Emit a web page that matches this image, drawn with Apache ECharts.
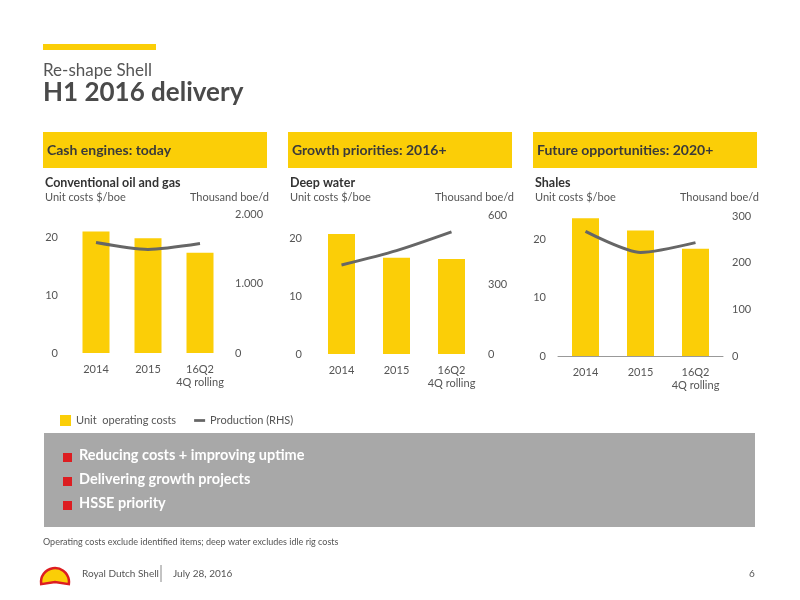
<!DOCTYPE html>
<html><head><meta charset="utf-8">
<script src="https://cdn.jsdelivr.net/npm/echarts@6/dist/echarts.min.js"></script>
<style>html,body{margin:0;padding:0;background:#fff}#c{width:800px;height:600px}</style>
</head><body><div id="c"></div>
<script>
const categories = ['2014', '2015', '16Q2\n4Q rolling'];
const convCosts = [21.0, 19.8, 17.3];
const convProd = [1590, 1490, 1575];
const deepCosts = [20.7, 16.6, 16.4];
const deepProd = [384, 446, 527];
const shaleCosts = [23.6, 21.5, 18.4];
const shaleProd = [267, 222, 243];
const leftTicks = {min: 0, max: 24, interval: 10};
const convRight = {min: 0, max: 2000, interval: 1000};
const deepRight = {min: 0, max: 600, interval: 300};
const shaleRight = {min: 0, max: 300, interval: 100};
const panelHeaders = ['Cash engines: today', 'Growth priorities: 2016+', 'Future opportunities: 2020+'];
const panelTitles = ['Conventional oil and gas', 'Deep water', 'Shales'];
const bullets = ['Reducing costs + improving uptime', 'Delivering growth projects', 'HSSE priority'];

const FONT = 'Lato, "DejaVu Sans", sans-serif';
const YEL = '#FBCE07', GREY = '#666', TXT = '#404040';
const chart = echarts.init(document.getElementById('c'));

const grids = [
  {left: 70, top: 214, width: 156, height: 139},
  {left: 314, top: 215, width: 165, height: 139},
  {left: 558, top: 216, width: 165, height: 140}
];
const rights = [convRight, deepRight, shaleRight];
const costs = [convCosts, deepCosts, shaleCosts];
const prods = [convProd, deepProd, shaleProd];

const xAxis = [], yAxis = [], series = [];
grids.forEach((g, i) => {
  xAxis.push({type: 'category', gridIndex: i, data: categories,
    axisLine: {show: i === 2, lineStyle: {color: '#999'}}, axisTick: {show: false},
    axisLabel: {color: '#555', fontSize: 11, fontFamily: FONT, margin: 10, lineHeight: 13, interval: 0}});
  yAxis.push({type: 'value', gridIndex: i, min: leftTicks.min, max: leftTicks.max, interval: leftTicks.interval,
    splitLine: {show: false}, axisLine: {show: false}, axisTick: {show: false},
    axisLabel: {color: '#555', fontSize: 11, fontFamily: FONT, margin: 12, showMaxLabel: false}});
  yAxis.push({type: 'value', gridIndex: i, position: 'right', min: rights[i].min, max: rights[i].max, interval: rights[i].interval,
    splitLine: {show: false}, axisLine: {show: false}, axisTick: {show: false},
    axisLabel: {color: '#555', fontSize: 11, fontFamily: FONT, margin: 9,
      formatter: v => i === 0 ? (v >= 1000 ? (v / 1000) + '.000' : String(v)) : String(v)}});
  series.push({name: 'Unit  operating costs', type: 'bar', xAxisIndex: i, yAxisIndex: 2 * i, data: costs[i],
    barWidth: 27, itemStyle: {color: YEL}});
  series.push({name: 'Production (RHS)', type: 'line', xAxisIndex: i, yAxisIndex: 2 * i + 1, data: prods[i],
    smooth: 0.25, symbol: 'none', lineStyle: {color: GREY, width: 3}});
});

const graphic = [
  {type: 'rect', shape: {x: 43, y: 44, width: 113, height: 6}, style: {fill: YEL}},
  {type: 'text', left: 43, top: 62, style: {text: 'Re-shape Shell', fill: '#555', fontSize: 17, fontFamily: FONT}},
  {type: 'text', left: 43, top: 80, style: {text: 'H1 2016 delivery', fill: '#4a4a4a', fontSize: 26, fontWeight: 'bold', fontFamily: FONT}},
  {type: 'rect', shape: {x: 44, y: 433, width: 711, height: 94}, style: {fill: '#A8A8A8'}},
  {type: 'text', left: 43, top: 538, style: {text: 'Operating costs exclude identified items; deep water excludes idle rig costs', fill: '#555', fontSize: 9, fontFamily: FONT}},
  {type: 'sector', shape: {cx: 55, cy: 582, r0: 0, r: 14, startAngle: Math.PI * 0.95, endAngle: Math.PI * 2.05}, style: {fill: YEL, stroke: '#DD1D21', lineWidth: 2.5}},
  {type: 'text', left: 82, top: 569, style: {text: 'Royal Dutch Shell', fill: '#555', fontSize: 10, fontFamily: FONT}},
  {type: 'line', shape: {x1: 161, y1: 565, x2: 161, y2: 582}, style: {stroke: '#888', lineWidth: 1}},
  {type: 'text', left: 173, top: 569, style: {text: 'July 28, 2016', fill: '#555', fontSize: 10, fontFamily: FONT}},
  {type: 'text', left: 749, top: 569, style: {text: '6', fill: '#555', fontSize: 10, fontFamily: FONT}}
];
const hx = [43, 288, 533];
panelHeaders.forEach((t, i) => {
  graphic.push({type: 'rect', shape: {x: hx[i], y: 132, width: 224, height: 36}, style: {fill: YEL}});
  graphic.push({type: 'text', left: hx[i] + 4, top: 143, style: {text: t, fill: '#3a3a3a', fontSize: 14, fontWeight: 'bold', fontFamily: FONT}});
  graphic.push({type: 'text', left: hx[i] + 2, top: 176, style: {text: panelTitles[i], fill: '#333', fontSize: 12.5, fontWeight: 'bold', fontFamily: FONT}});
  graphic.push({type: 'text', left: hx[i] + 2, top: 192, style: {text: 'Unit costs $/boe', fill: '#555', fontSize: 11, fontFamily: FONT}});
  graphic.push({type: 'text', right: 800 - (hx[i] + 226), top: 192, style: {text: 'Thousand boe/d', fill: '#555', fontSize: 11, fontFamily: FONT}});
});
bullets.forEach((b, i) => {
  graphic.push({type: 'rect', shape: {x: 63, y: 453 + i * 24, width: 9, height: 9}, style: {fill: '#DD1D21'}});
  graphic.push({type: 'text', left: 79, top: 448 + i * 24, style: {text: b, fill: '#fff', fontSize: 14.5, fontWeight: 'bold', fontFamily: FONT}});
});

chart.setOption({
  animation: false,
  grid: grids,
  xAxis, yAxis, series, graphic,
  legend: {left: 55, top: 410, itemGap: 18, itemWidth: 11, itemHeight: 11,
    textStyle: {color: '#555', fontSize: 11, fontFamily: FONT},
    data: [{name: 'Unit  operating costs', icon: 'rect'},
           {name: 'Production (RHS)', icon: 'path://M0,4h12v3h-12z', itemStyle: {color: GREY}}]}
});
</script></body></html>
